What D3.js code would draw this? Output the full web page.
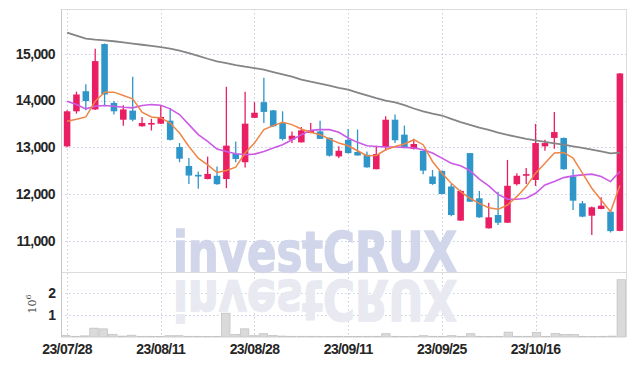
<!DOCTYPE html>
<html>
<head>
<meta charset="utf-8">
<script src="https://cdn.jsdelivr.net/npm/d3@7"></script>
<style>
  body { margin: 0; background: #fff; }
  svg { display: block; }
</style>
</head>
<body>
<div id="chart"></div>
<script>
// trading days (yyyy-mm-dd)
const dates = [
  "2023-07-28","2023-07-31","2023-08-01","2023-08-02","2023-08-03","2023-08-04","2023-08-07","2023-08-08","2023-08-09","2023-08-10",
  "2023-08-11","2023-08-14","2023-08-16","2023-08-17","2023-08-18","2023-08-21","2023-08-22","2023-08-23","2023-08-24","2023-08-25",
  "2023-08-28","2023-08-29","2023-08-30","2023-08-31","2023-09-01","2023-09-04","2023-09-05","2023-09-06","2023-09-07","2023-09-08",
  "2023-09-11","2023-09-12","2023-09-13","2023-09-14","2023-09-15","2023-09-18","2023-09-19","2023-09-20","2023-09-21","2023-09-22",
  "2023-09-25","2023-09-26","2023-09-27","2023-10-04","2023-10-05","2023-10-06","2023-10-10","2023-10-11","2023-10-12","2023-10-13",
  "2023-10-16","2023-10-17","2023-10-18","2023-10-19","2023-10-20","2023-10-23","2023-10-24","2023-10-25","2023-10-26","2023-10-27"
];
const open = [13020,13770,14200,13810,15210,13950,13590,13785,13450,13485,13505,13570,13005,12600,12410,12320,12390,12320,12860,12680,
  13630,13965,13790,13520,13162,13105,13305,13340,13200,12805,13160,12900,12840,12530,13005,13590,13270,12962,12925,12375,
  12495,12160,11430,12875,11908,11265,11550,11385,12210,12390,12300,13020,13200,13200,12375,11800,11535,11680,11620,11210];
const high = [13790,14190,14350,15110,15220,13990,13900,14510,13650,13610,13900,13840,13090,12770,12480,12800,12590,14295,13125,14190,
  13965,14490,13800,13770,13340,13435,13520,13570,13210,13020,13390,13380,12910,13035,13665,13700,13465,13180,12930,12515,
  12500,12215,12090,12880,12065,11815,12050,12730,12445,12555,13500,13160,13757,13210,12530,11850,11730,11930,11625,14590];
const low = [13000,13720,13790,13800,13880,13700,13460,13555,13440,13360,13500,13145,12680,12215,12110,12315,12200,12125,12680,12565,
  13625,13520,13435,13145,13090,13100,13300,13175,12800,12768,12865,12820,12560,12530,12925,13090,12980,12955,12425,12195,
  11995,11525,11425,11830,11490,11260,11335,11380,12180,12215,12170,12925,12970,12520,11655,11505,11120,11675,11175,11200];
const close = [13770,14130,13990,14845,14130,13770,13810,13590,13520,13520,13650,13160,12755,12395,12375,12430,12210,13035,12750,13505,
  13740,13757,13450,13177,13247,13362,13360,13180,12820,12925,12875,12825,12570,12855,13590,13150,12985,13070,12500,12215,
  12000,11550,12065,11835,11500,11500,11385,12175,12390,12425,13090,13090,13325,12530,11857,11515,11715,11750,11205,14580];
const volume = [70000,30000,50000,400000,370000,120000,40000,80000,30000,30000,20000,60000,60000,30000,30000,20000,30000,1080000,110000,370000,
  60000,150000,70000,40000,30000,30000,30000,30000,20000,30000,20000,20000,30000,30000,150000,30000,20000,30000,60000,30000,
  30000,60000,30000,150000,30000,20000,30000,220000,30000,30000,200000,30000,160000,120000,110000,30000,20000,30000,40000,2600000];
// moving averages
const ma5 = [13555,13600,13650,13985,14180,14180,14110,14037,13750,13650,13628,13520,13306,13018,12768,12624,12459,12502,12575,12876,
  13090,13377,13463,13534,13485,13392,13320,13270,13177,13090,13033,12925,12818,12825,12947,13018,13070,13162,13055,12696,
  12446,12231,12050,11908,11800,11706,11672,11764,11943,12158,12446,12660,12876,12889,12768,12446,12123,11872,11620,12180];
const ma20 = [13985,13914,13822,13878,13893,13878,13856,13843,13893,13914,13900,13822,13700,13485,13270,13125,12962,12910,12861,12840,
  12854,12910,12983,13055,13162,13270,13362,13377,13377,13320,13198,13105,13033,13018,13005,13005,12997,12983,12947,12876,
  12768,12660,12603,12500,12320,12172,11990,11887,11887,11908,12016,12194,12265,12351,12388,12409,12424,12373,12265,12480];
const ma120 = [15456,15390,15325,15305,15290,15270,15245,15218,15195,15170,15146,15110,15068,15015,14955,14895,14840,14800,14760,14725,
  14695,14660,14610,14560,14510,14450,14405,14365,14320,14273,14235,14170,14110,14050,14000,13960,13900,13830,13770,13720,
  13680,13610,13540,13480,13420,13370,13315,13265,13225,13180,13150,13115,13085,13055,13020,12985,12950,12910,12870,12885];
const priceTicks = [11000, 12000, 13000, 14000, 15000];
const volTicks = [1000000, 2000000];
const dateTicks = ["2023-07-28","2023-08-11","2023-08-28","2023-09-11","2023-09-25","2023-10-16"];

const W = 634, H = 366;
const left = 61, right = 626;
const priceTop = 9, priceBottom = 272, volBottom = 337;
const upColor = "#e91e63", downColor = "#2f96c9";
const tickFont = "'Liberation Sans Narrow', 'Liberation Sans', sans-serif";

const svg = d3.select("#chart")
  .append("svg")
  .attr("width", W)
  .attr("height", H);

// scales
const x = d3.scaleBand()
  .domain(dates)
  .range([left, right])
  .padding(0.3);
const xc = d => x(d) + x.bandwidth() / 2;

const y = d3.scaleLinear()
  .domain([10330, 15960])
  .range([priceBottom, priceTop]);

const yv = d3.scaleLinear()
  .domain([0, 2950000])
  .range([volBottom, priceBottom]);

// grid
const grid = svg.append("g").attr("stroke", "#c9cde0").attr("stroke-dasharray", "1.5,2.5");
grid.selectAll(".hp").data(priceTicks).enter().append("line")
  .attr("x1", left).attr("x2", right)
  .attr("y1", d => Math.round(y(d)) + 0.5).attr("y2", d => Math.round(y(d)) + 0.5);
grid.selectAll(".hv").data(volTicks).enter().append("line")
  .attr("x1", left).attr("x2", right)
  .attr("y1", d => Math.round(yv(d)) + 0.5).attr("y2", d => Math.round(yv(d)) + 0.5);
grid.selectAll(".vv").data(dateTicks).enter().append("line")
  .attr("x1", d => Math.round(xc(d)) + 0.5).attr("x2", d => Math.round(xc(d)) + 0.5)
  .attr("y1", priceTop).attr("y2", volBottom);

// frame
svg.append("line").attr("x1", left).attr("x2", right).attr("y1", priceTop + 0.5).attr("y2", priceTop + 0.5).attr("stroke", "#dcdcdc");
svg.append("line").attr("x1", left).attr("x2", right).attr("y1", priceBottom + 0.5).attr("y2", priceBottom + 0.5).attr("stroke", "#dcdcdc");
svg.append("line").attr("x1", right + 0.5).attr("x2", right + 0.5).attr("y1", priceTop).attr("y2", volBottom).attr("stroke", "#dcdcdc");
svg.append("line").attr("x1", left + 0.5).attr("x2", left + 0.5).attr("y1", priceTop).attr("y2", volBottom).attr("stroke", "#c8c8c8");

// watermark + reflection (reflection sits in the volume pane)
const wm = svg.append("g").attr("font-family", "'DejaVu Sans', sans-serif").attr("font-weight", "bold").attr("font-size", 56);
wm.append("text")
  .attr("x", 173).attr("y", 271)
  .attr("textLength", 284).attr("lengthAdjust", "spacingAndGlyphs")
  .attr("fill", "#d1d6ea").attr("stroke", "#d1d6ea").attr("stroke-width", 1.6)
  .text("investCRUX");
wm.append("text")
  .attr("transform", "translate(0,552) scale(1,-1)")
  .attr("x", 173).attr("y", 271)
  .attr("textLength", 284).attr("lengthAdjust", "spacingAndGlyphs")
  .attr("fill", "#e8e9f1").attr("stroke", "#e8e9f1").attr("stroke-width", 1.6)
  .text("investCRUX");

// volume bars
const vx = d3.scaleBand().domain(dates).range([left, right]).padding(0);
svg.append("g").selectAll("rect").data(dates).enter().append("rect")
  .attr("x", d => vx(d) + 0.5)
  .attr("width", vx.bandwidth() - 1)
  .attr("y", (d, i) => yv(volume[i]))
  .attr("height", (d, i) => volBottom - yv(volume[i]))
  .attr("fill", "#dadada")
  .attr("stroke", "#c4c4c4")
  .attr("stroke-width", 0.8);

// candles
const candles = svg.append("g").selectAll("g").data(dates).enter().append("g");
candles.append("line")
  .attr("x1", d => xc(d)).attr("x2", d => xc(d))
  .attr("y1", (d, i) => y(high[i])).attr("y2", (d, i) => y(low[i]))
  .attr("stroke", (d, i) => close[i] >= open[i] ? upColor : downColor)
  .attr("stroke-width", 1.3);
candles.append("rect")
  .attr("x", d => x(d))
  .attr("width", x.bandwidth())
  .attr("y", (d, i) => y(Math.max(open[i], close[i])))
  .attr("height", (d, i) => Math.max(1.5, Math.abs(y(open[i]) - y(close[i]))))
  .attr("fill", (d, i) => close[i] >= open[i] ? upColor : downColor);

// moving averages
const lineOf = arr => d3.line().x((d, i) => xc(dates[i])).y(d => y(d))(arr);
svg.append("path").attr("d", lineOf(ma120)).attr("fill", "none").attr("stroke", "#858585").attr("stroke-width", 1.8);
svg.append("path").attr("d", lineOf(ma20)).attr("fill", "none").attr("stroke", "#cc5ae6").attr("stroke-width", 1.6);
svg.append("path").attr("d", lineOf(ma5)).attr("fill", "none").attr("stroke", "#ef8647").attr("stroke-width", 1.5);

// axes labels
const fmt = d3.format(",");
svg.append("g").selectAll("text").data(priceTicks).enter().append("text")
  .attr("x", 55).attr("y", d => y(d)).attr("dy", "0.35em")
  .attr("text-anchor", "end")
  .attr("font-family", tickFont).attr("font-weight", "bold").attr("font-size", 14)
  .attr("letter-spacing", -0.6)
  .attr("fill", "#262626")
  .text(d => fmt(d));
svg.append("g").selectAll("text").data(volTicks).enter().append("text")
  .attr("x", 56).attr("y", d => yv(d)).attr("dy", "0.35em")
  .attr("text-anchor", "end")
  .attr("font-family", tickFont).attr("font-weight", "bold").attr("font-size", 14)
  .attr("fill", "#262626")
  .text(d => d / 1000000);
const vlab = svg.append("text")
  .attr("transform", "translate(36,304) rotate(-90)")
  .attr("text-anchor", "middle")
  .attr("font-family", "'DejaVu Serif', serif").attr("font-size", 11)
  .attr("fill", "#444");
vlab.append("tspan").text("10");
vlab.append("tspan").attr("dy", -5).attr("font-size", 8).text("6");

const parse = d3.timeParse("%Y-%m-%d"), tf = d3.timeFormat("%y/%m/%d");
svg.append("g").selectAll("text").data(dateTicks).enter().append("text")
  .attr("x", d => xc(d)).attr("y", 349).attr("dy", "0.35em")
  .attr("text-anchor", "middle")
  .attr("font-family", tickFont).attr("font-weight", "bold").attr("font-size", 14)
  .attr("letter-spacing", -0.6)
  .attr("fill", "#262626")
  .text(d => tf(parse(d)));
</script>
</body>
</html>
